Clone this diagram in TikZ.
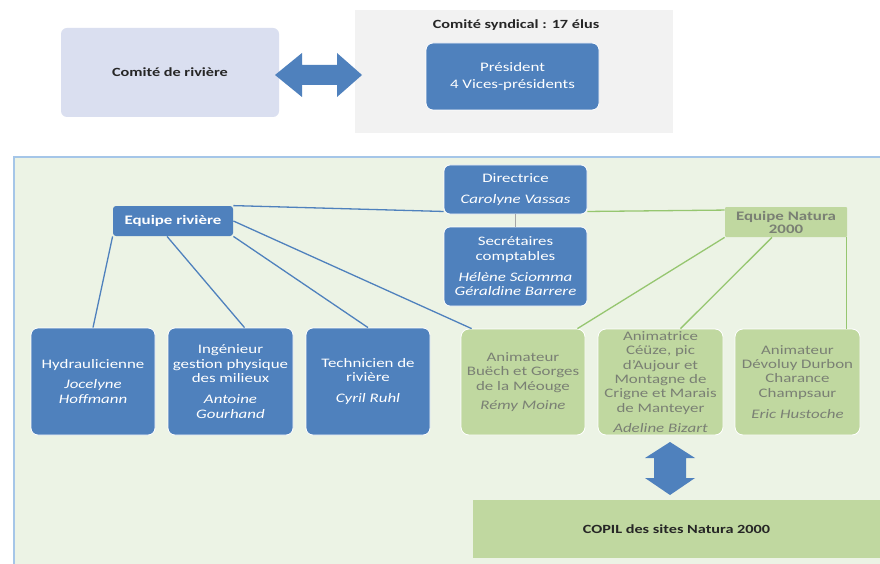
\documentclass[tikz,border=0pt]{standalone}
\usepackage{fontspec}
\setmainfont{Carlito}[FakeStretch=1.3]
\usepackage{tikz}
\usetikzlibrary{shapes,arrows}

\definecolor{boxblue}{RGB}{79,129,189}
\definecolor{boxgreen}{RGB}{192,216,160}
\definecolor{panelgreen}{RGB}{236,243,229}
\definecolor{panelline}{RGB}{165,198,232}
\definecolor{lavender}{RGB}{218,223,240}
\definecolor{syndgray}{RGB}{242,242,242}
\definecolor{linegreen}{RGB}{150,198,112}
\definecolor{textgray}{RGB}{122,128,116}
\definecolor{darktext}{RGB}{38,38,38}

\tikzstyle{txt} = [font=\fontsize{13}{14.3}\selectfont, align=center, inner sep=0pt]
\tikzstyle{bluebox} = [txt, fill=boxblue, text=white, draw=white, line width=0.8pt, rounded corners=7pt]
\tikzstyle{greenbox} = [txt, fill=boxgreen, text=textgray, draw=white, line width=0.8pt, rounded corners=8pt]
\tikzstyle{bluelink} = [draw=boxblue, line width=1.3pt]
\tikzstyle{greenlink} = [draw=linegreen, line width=1.3pt]

\begin{document}
\begin{tikzpicture}[x=1pt, y=-1pt]
			\useasboundingbox (0,0) rectangle (880,564);
			\fill[white] (0,0) rectangle (880,564);
			
			% top: committees
			\node[txt, fill=lavender, rounded corners=6pt, minimum width=218pt, minimum height=89pt,
				font=\fontsize{12.5}{14}\selectfont\bfseries, text=darktext] (riviere) at (170,72.5) {Comité de rivière};
			\node[txt, fill=syndgray, minimum width=318pt, minimum height=123pt] (syndical) at (514,71.5) {};
			\node[txt, font=\fontsize{12.5}{14}\selectfont\bfseries, text=darktext] (syndtitle) at (516,25) {Comité syndical : 17 élus};
			\node[bluebox, minimum width=173pt, minimum height=67pt] (president) at (512.5,76.5) {Président\\[3pt]4 Vices-présidents};
			\fill[boxblue] (275,75) -- (302,53) -- (302,65) -- (337,65) -- (337,53) -- (362,75)
				-- (337,97) -- (337,85) -- (302,85) -- (302,97) -- cycle;
			
			% bottom: team
			\draw[fill=panelgreen, draw=panelline, line width=2pt] (14,157) rectangle (895,580);
			
			\node[bluebox, rounded corners=6pt, minimum width=143pt, minimum height=49pt] (directrice) at (515.5,189.5)
				{Directrice\\[6pt]\textit{Carolyne Vassas}};
			\node[bluebox, rounded corners=6pt, minimum width=143pt, minimum height=79pt] (secretaires) at (515.5,266.5)
				{Secrétaires\\comptables\\[7pt]\textit{Hélène Sciomma}\\\textit{Géraldine Barrere}};
			\node[bluebox, rounded corners=3pt, draw=none, minimum width=120pt, minimum height=30pt, font=\fontsize{13}{14.3}\selectfont\bfseries]
				(eqriv) at (173,221) {Equipe rivière};
			\node[greenbox, rounded corners=1pt, draw=none, minimum width=122pt, minimum height=30pt, font=\fontsize{13}{13}\selectfont\bfseries]
				(eqnat) at (786,222) {Equipe Natura\\2000};
			
			\node[bluebox, minimum width=124pt, minimum height=107pt] (hydrau) at (93,381.5)
				{Hydraulicienne\\[6pt]\textit{Jocelyne}\\\textit{Hoffmann}};
			\node[bluebox, minimum width=125pt, minimum height=107pt] (ingenieur) at (230.5,381.5)
				{Ingénieur\\gestion physique\\des milieux\\[7pt]\textit{Antoine}\\\textit{Gourhand}};
			\node[bluebox, minimum width=124pt, minimum height=107pt] (technicien) at (368,381.5)
				{Technicien de\\rivière\\[7pt]\textit{Cyril Ruhl}};
			\node[greenbox, minimum width=124pt, minimum height=106pt] (buech) at (523,382)
				{Animateur\\Buëch et Gorges\\de la Méouge\\[5pt]\textit{Rémy Moine}};
			\node[greenbox, minimum width=125pt, minimum height=106pt] (animatrice) at (660.5,382)
				{Animatrice\\Céüze, pic\\d’Aujour et\\Montagne de\\Crigne et Marais\\de Manteyer\\[6pt]\textit{Adeline Bizart}};
			\node[greenbox, minimum width=125pt, minimum height=106pt] (devoluy) at (797.5,382)
				{Animateur\\Dévoluy Durbon\\Charance\\Champsaur\\[7pt]\textit{Eric Hustoche}};
			
			\node[txt, fill=boxgreen, minimum width=407pt, minimum height=58pt,
				font=\fontsize{12.5}{14}\selectfont\bfseries, text=darktext] (copil) at (676.5,529) {COPIL des sites Natura 2000};
			\fill[boxblue] (670,442) -- (695,458) -- (686,458) -- (686,478) -- (695,478) -- (670,495)
				-- (645,478) -- (654,478) -- (654,458) -- (645,458) -- cycle;
			
			% links
			\draw[bluelink] (eqriv.north east) -- (directrice.197);
			\draw[greenlink] (directrice.-17) -- (eqnat.169);
			\draw[draw=gray!70, line width=1.5pt] (directrice.south) -- (secretaires.north);
			\draw[bluelink] (eqriv.south west) -- (hydrau.north);
			\draw[bluelink] ([xshift=-6pt]eqriv.south) -- ([xshift=14pt]ingenieur.north);
			\draw[bluelink] (eqriv.south east) -- (technicien.north);
			\draw[bluelink] (eqriv.east) -- ([xshift=11pt]buech.north west);
			\draw[greenlink] (eqnat.south west) -- ([xshift=-8pt]buech.north east);
			\draw[greenlink] ([xshift=-14pt]eqnat.south) -- ([xshift=20pt]animatrice.north);
			\draw[greenlink] ([xshift=-1pt]eqnat.south east) -- ([xshift=-1pt]eqnat.south east |- devoluy.north);
			
			\end{tikzpicture}
\end{document}
